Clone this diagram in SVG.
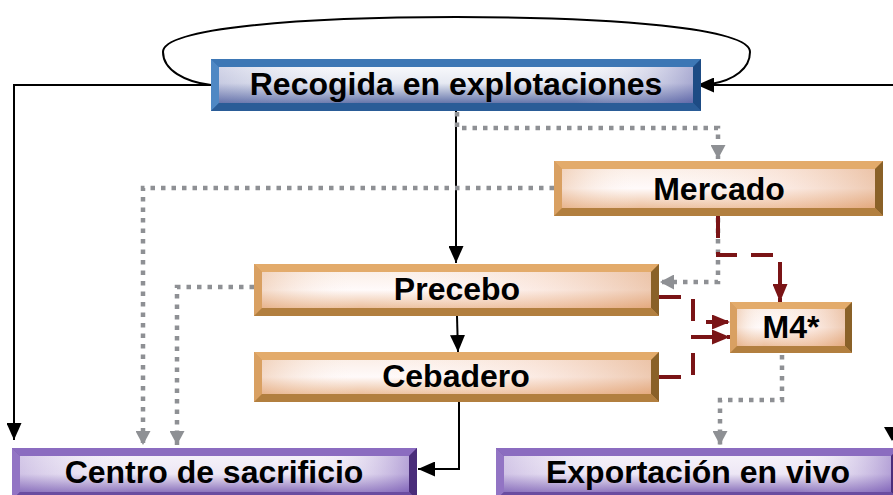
<svg xmlns="http://www.w3.org/2000/svg" width="893" height="495" viewBox="0 0 893 495">
<style>
.lbl{font-family:"Liberation Sans",Arial,sans-serif;font-weight:bold;font-size:32px;fill:#000;text-anchor:middle}
.blk{fill:none;stroke:#000;stroke-width:2}
.gry{fill:none;stroke:#8e9094;stroke-width:4.5;stroke-dasharray:4.5 6}
.red{fill:none;stroke:#7a1416;stroke-width:4;stroke-dasharray:22 14}
.bt-t{fill:#3d77b5}.bt-l{fill:#4f88c4}.bt-r{fill:#1d4b84}.bt-b{fill:#2a5c97}
.ot-t{fill:#e3ab6b}.ot-l{fill:#d9a062}.ot-r{fill:#8a6128}.ot-b{fill:#b27f3f}
.pt-t{fill:#8b6cc0}.pt-l{fill:#9274c4}.pt-r{fill:#4a2d7a}.pt-b{fill:#6a4ca0}
</style>
<defs>
<linearGradient id="gBlue" x1="0" y1="0" x2="0" y2="1">
<stop offset="0" stop-color="#f7f8fb"/><stop offset="0.45" stop-color="#e6e9f2"/><stop offset="1" stop-color="#6676ab"/>
</linearGradient>
<linearGradient id="gBlueH" x1="0" y1="0" x2="1" y2="0">
<stop offset="0" stop-color="#6a6fb0" stop-opacity="0.25"/><stop offset="0.3" stop-color="#ffffff" stop-opacity="0"/><stop offset="0.75" stop-color="#ffffff" stop-opacity="0"/><stop offset="1" stop-color="#5a5aa8" stop-opacity="0.45"/>
</linearGradient>
<linearGradient id="gOr" x1="0" y1="0" x2="0" y2="1">
<stop offset="0" stop-color="#fbefe8"/><stop offset="0.5" stop-color="#fffafa"/><stop offset="1" stop-color="#ecbf9c"/>
</linearGradient>
<linearGradient id="gOrH" x1="0" y1="0" x2="1" y2="0">
<stop offset="0" stop-color="#e0a070" stop-opacity="0.35"/><stop offset="0.25" stop-color="#ffffff" stop-opacity="0"/><stop offset="0.7" stop-color="#f3c8b0" stop-opacity="0.3"/><stop offset="1" stop-color="#d98f5a" stop-opacity="0.45"/>
</linearGradient>
<linearGradient id="gPu" x1="0" y1="0" x2="0" y2="1">
<stop offset="0" stop-color="#f5f1f9"/><stop offset="0.5" stop-color="#ede7f5"/><stop offset="1" stop-color="#8d75bd"/>
</linearGradient>
<linearGradient id="gPuH" x1="0" y1="0" x2="1" y2="0">
<stop offset="0" stop-color="#8a6cc0" stop-opacity="0.3"/><stop offset="0.3" stop-color="#ffffff" stop-opacity="0"/><stop offset="0.75" stop-color="#ffffff" stop-opacity="0"/><stop offset="1" stop-color="#7a5ab8" stop-opacity="0.5"/>
</linearGradient>
<marker id="aBlk" markerUnits="userSpaceOnUse" markerWidth="17" markerHeight="15" refX="17" refY="7.5" orient="auto">
<path d="M0,0 L17,7.5 L0,15 z" fill="#000"/>
</marker>
<marker id="aGry" markerUnits="userSpaceOnUse" markerWidth="14" markerHeight="15" refX="14" refY="7.5" orient="auto">
<path d="M0,0 L14,7.5 L0,15 z" fill="#8e9094"/>
</marker>
<marker id="aRed" markerUnits="userSpaceOnUse" markerWidth="18" markerHeight="15" refX="18" refY="7.5" orient="auto">
<path d="M0,0 L18,7.5 L0,15 z" fill="#7a1416"/>
</marker>
</defs>

<g id="connectors">
<path class="blk" d="M711,84 C735,80 750,68 750,52 C750,28 612,17 456,17 C300,17 163,28 163,52 C163,70 185,82 211,85"/>
<path class="blk" d="M893,85 H697" marker-end="url(#aBlk)"/>
<path class="blk" d="M211,85 H14 V440" marker-end="url(#aBlk)"/>
<path class="blk" d="M456,111 V263" marker-end="url(#aBlk)"/>
<path class="blk" d="M457,316 L458,352" marker-end="url(#aBlk)"/>
<path class="blk" d="M459,402 V469 H418" marker-end="url(#aBlk)"/>
<polygon points="884,427 900,427 892,441" fill="#000"/>

<path class="gry" d="M457,112 V128 H718 V159" marker-end="url(#aGry)"/>
<path class="gry" d="M554,188 H143 V445" marker-end="url(#aGry)"/>
<path class="gry" d="M254,287 H177 V445" marker-end="url(#aGry)"/>
<path class="gry" d="M718,218 V282 H660" marker-end="url(#aGry)"/>
<path class="gry" d="M782,355 V400 H720 V445" marker-end="url(#aGry)"/>

<path class="red" d="M718,216 V255 H780 V302" marker-end="url(#aRed)"/>
<path class="red" d="M659,297 H693 V322 H730" marker-end="url(#aRed)"/>
<path class="red" d="M659,377 H693 V337 H730" marker-end="url(#aRed)"/>
</g>

<g id="recogida">
<rect x="211" y="59" width="490" height="52" fill="#2e65a3"/>
<polygon class="bt-t" points="211,59 701,59 693,67 219,67"/>
<polygon class="bt-l" points="211,59 219,67 219,103 211,111"/>
<polygon class="bt-r" points="701,59 701,111 693,103 693,67"/>
<polygon class="bt-b" points="211,111 219,103 693,103 701,111"/>
<rect x="219" y="67" width="474" height="36" fill="url(#gBlue)"/>
<rect x="219" y="67" width="474" height="36" fill="url(#gBlueH)"/>
<text class="lbl" x="456" y="95">Recogida en explotaciones</text>
</g>

<g id="mercado">
<rect x="554" y="161" width="329" height="55" fill="#d59a58"/>
<polygon class="ot-t" points="554,161 883,161 875,169 562,169"/>
<polygon class="ot-l" points="554,161 562,169 562,208 554,216"/>
<polygon class="ot-r" points="883,161 883,216 875,208 875,169"/>
<polygon class="ot-b" points="554,216 562,208 875,208 883,216"/>
<rect x="562" y="169" width="313" height="39" fill="url(#gOr)"/>
<rect x="562" y="169" width="313" height="39" fill="url(#gOrH)"/>
<text class="lbl" x="719" y="200">Mercado</text>
</g>

<g id="precebo">
<rect x="254" y="264" width="405" height="52" fill="#d59a58"/>
<polygon class="ot-t" points="254,264 659,264 651,272 262,272"/>
<polygon class="ot-l" points="254,264 262,272 262,308 254,316"/>
<polygon class="ot-r" points="659,264 659,316 651,308 651,272"/>
<polygon class="ot-b" points="254,316 262,308 651,308 659,316"/>
<rect x="262" y="272" width="389" height="36" fill="url(#gOr)"/>
<rect x="262" y="272" width="389" height="36" fill="url(#gOrH)"/>
<text class="lbl" x="457" y="300">Precebo</text>
</g>

<g id="cebadero">
<rect x="254" y="352" width="405" height="50" fill="#d59a58"/>
<polygon class="ot-t" points="254,352 659,352 651,360 262,360"/>
<polygon class="ot-l" points="254,352 262,360 262,394 254,402"/>
<polygon class="ot-r" points="659,352 659,402 651,394 651,360"/>
<polygon class="ot-b" points="254,402 262,394 651,394 659,402"/>
<rect x="262" y="360" width="389" height="34" fill="url(#gOr)"/>
<rect x="262" y="360" width="389" height="34" fill="url(#gOrH)"/>
<text class="lbl" x="456" y="387">Cebadero</text>
</g>

<g id="m4">
<rect x="730" y="302" width="122" height="51" fill="#d59a58"/>
<polygon class="ot-t" points="730,302 852,302 845,309 737,309"/>
<polygon class="ot-l" points="730,302 737,309 737,346 730,353"/>
<polygon class="ot-r" points="852,302 852,353 845,346 845,309"/>
<polygon class="ot-b" points="730,353 737,346 845,346 852,353"/>
<rect x="737" y="309" width="108" height="37" fill="url(#gOr)"/>
<rect x="737" y="309" width="108" height="37" fill="url(#gOrH)"/>
<text class="lbl" x="791" y="338">M4*</text>
</g>

<g id="centro">
<rect x="12" y="448" width="405" height="52" fill="#7456a6"/>
<polygon class="pt-t" points="12,448 417,448 409,456 20,456"/>
<polygon class="pt-l" points="12,448 20,456 20,492 12,500"/>
<polygon class="pt-r" points="417,448 417,500 409,492 409,456"/>
<polygon class="pt-b" points="12,500 20,492 409,492 417,500"/>
<rect x="20" y="456" width="389" height="36" fill="url(#gPu)"/>
<rect x="20" y="456" width="389" height="36" fill="url(#gPuH)"/>
<text class="lbl" x="214" y="483">Centro de sacrificio</text>
</g>

<g id="exportacion">
<rect x="496" y="448" width="403" height="52" fill="#7456a6"/>
<polygon class="pt-t" points="496,448 899,448 891,456 504,456"/>
<polygon class="pt-l" points="496,448 504,456 504,492 496,500"/>
<polygon class="pt-r" points="899,448 899,500 891,492 891,456"/>
<polygon class="pt-b" points="496,500 504,492 891,492 899,500"/>
<rect x="504" y="456" width="387" height="36" fill="url(#gPu)"/>
<rect x="504" y="456" width="387" height="36" fill="url(#gPuH)"/>
<text class="lbl" x="698" y="483">Exportación en vivo</text>
</g>
</svg>
